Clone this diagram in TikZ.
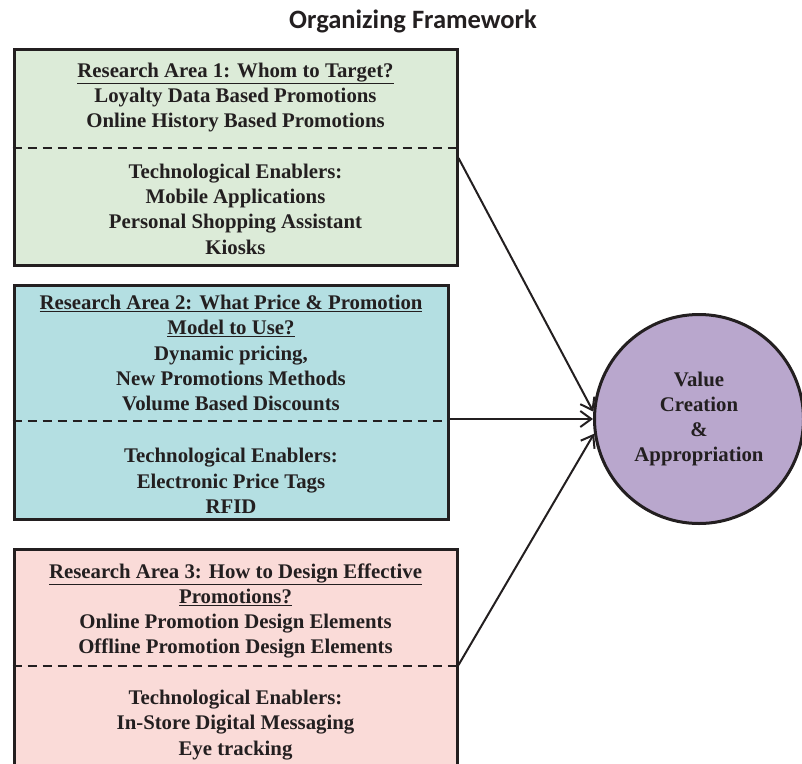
\documentclass[tikz,border=0pt]{standalone}
\usepackage{fontspec}
\usepackage{xcolor}
\usepackage{tikz}
\usetikzlibrary{shapes,arrows.meta}
\setmainfont{Liberation Serif}
\newfontfamily\titlefont{Carlito}
\definecolor{ink}{RGB}{35, 31, 32}
\definecolor{greenfill}{RGB}{220, 235, 216}
\definecolor{cyanfill}{RGB}{180, 223, 226}
\definecolor{pinkfill}{RGB}{250, 219, 216}
\definecolor{lilac}{RGB}{185, 167, 205}
\newcommand{\boxfont}{\fontsize{20.8}{25.3}\selectfont\bfseries}
\tikzstyle{areabox}=[draw=ink,line width=3pt,rectangle,inner sep=0pt]
\tikzstyle{boxtext}=[text=ink,align=center,inner sep=0pt,font=\boxfont]
\tikzstyle{valuecircle}=[draw=ink,line width=3pt,circle,fill=lilac,text=ink,align=center,inner sep=0pt,minimum size=209pt,font=\boxfont]
\tikzstyle{flow}=[draw=ink,line width=2pt,-{Straight Barb[length=11pt,width=16pt,line width=2pt]}]
\newcommand{\sepline}[2]{
  \draw[draw=ink,line width=2pt,dash pattern=on 9pt off 6pt] (#1.west |- 0,#2) -- (#1.east |- 0,#2);
}

\begin{document}
\begin{tikzpicture}[x=1pt,y=-1pt]
\useasboundingbox (0,0) rectangle (802,763);

\node[text=ink,font=\titlefont\fontsize{26.5}{30}\selectfont\bfseries] (title) at (413,21) {Organizing Framework};

% research areas
\node[areabox,fill=greenfill,minimum width=443pt,minimum height=216pt] (area1) at (235.5,157) {};
\node[areabox,fill=cyanfill,minimum width=434pt,minimum height=234pt] (area2) at (231,402) {};
\node[areabox,fill=pinkfill,minimum width=443pt,minimum height=241pt] (area3) at (235.5,669.5) {};

\sepline{area1}{148}
\sepline{area2}{421}
\sepline{area3}{666}

\node[boxtext] (head1) at (235.5,97.5) {\underline{Research Area 1: Whom to Target?}\\
  Loyalty Data Based Promotions\\Online History Based Promotions};
\node[boxtext] (tech1) at (235.5,209) {Technological Enablers:\\Mobile Applications\\
  Personal Shopping Assistant\\Kiosks};

\node[boxtext] (head2) at (231,353) {\underline{Research Area 2: What Price \& Promotion}\\
  \underline{Model to Use?}\\Dynamic pricing,\\New Promotions Methods\\Volume Based Discounts};
\node[boxtext] (tech2) at (231,481) {Technological Enablers:\\Electronic Price Tags\\RFID};

\node[boxtext] (head3) at (235.5,611) {\underline{Research Area 3: How to Design Effective}\\
  \underline{Promotions?}\\Online Promotion Design Elements\\Offline Promotion Design Elements};
\node[boxtext] (tech3) at (235.5,725) {Technological Enablers:\\In-Store Digital Messaging\\Eye tracking};

% outcome
\node[valuecircle] (value) at (699,419) {Value\\Creation\\\&\\Appropriation};

\draw[flow] (area1.east |- 0,158) -- (value.176);
\draw[flow] (area2.east |- value.west) -- (value.west);
\draw[flow] (area3.east |- 0,665) -- (value.188);

\end{tikzpicture}
\end{document}
